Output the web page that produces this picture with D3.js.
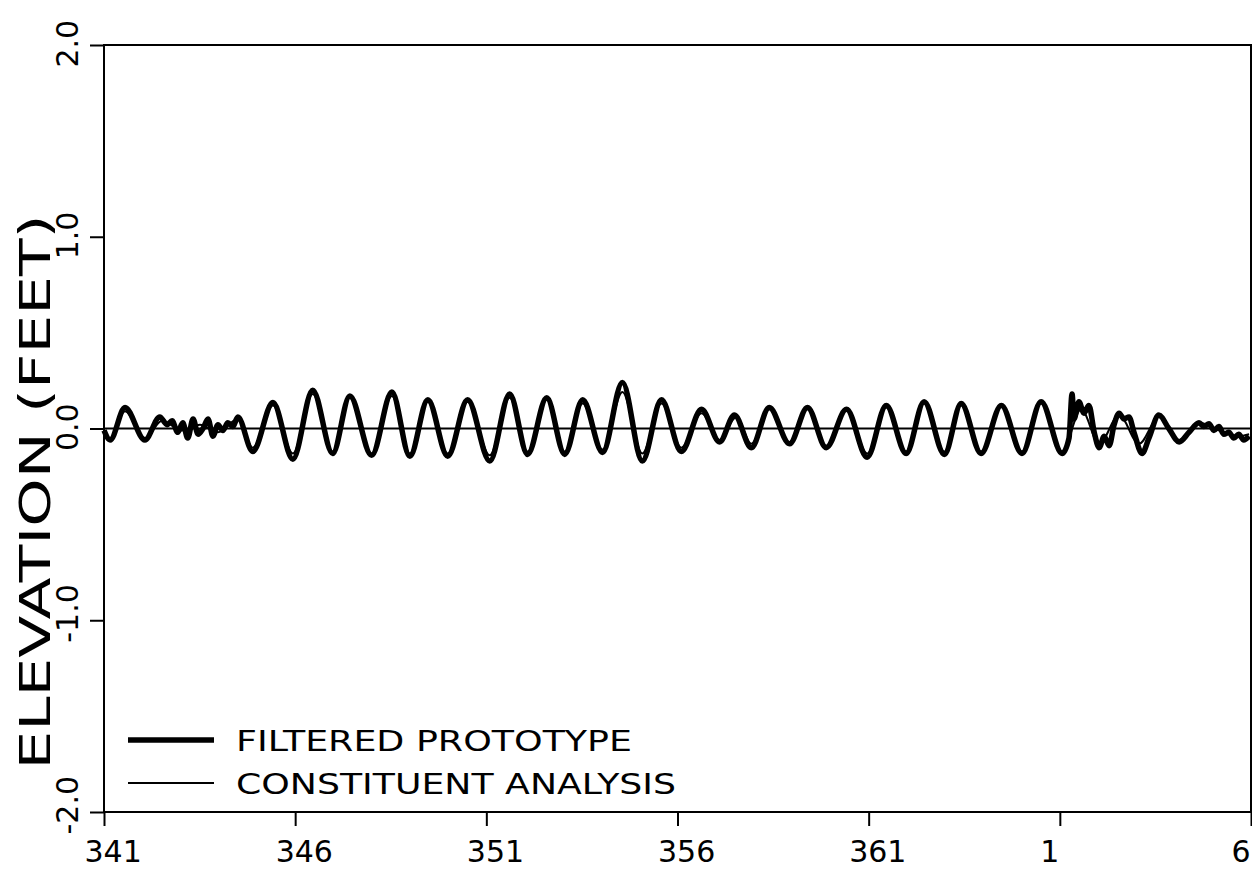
<!DOCTYPE html>
<html>
<head>
<meta charset="utf-8">
<script src="https://cdn.jsdelivr.net/npm/d3@7/dist/d3.min.js"></script>
<style>
  html, body { margin: 0; padding: 0; background: #fff; }
  svg { display: block; }
  text { font-family: "DejaVu Sans", sans-serif; fill: #000; }
</style>
</head>
<body>
<svg id="chart" width="1252" height="869"></svg>
<script>
// ---- data (days elapsed since start of day 341; elevation in feet) ----
const tickDays = [0, 5, 10, 15, 20, 25, 30];
const tickLabels = ["341", "346", "351", "356", "361", "1", "6"];
const yTicks = [-2, -1, 0, 1, 2];
const yTickLabels = ["-2.0", "-1.0", "0.0", "1.0", "2.0"];

const protoDays = [0, 0.16, 0.55, 1.07, 1.46, 1.65, 1.78, 1.93, 2.06, 2.19, 2.33, 2.46, 2.59, 2.72, 2.85, 2.98, 3.11, 3.24, 3.37, 3.50,
  3.89, 4.42, 4.94, 5.46, 5.98, 6.43, 7.00, 7.53, 8.00, 8.47, 8.99, 9.51, 10.09, 10.61, 11.08, 11.58, 12.05, 12.52, 13.04, 13.56,
  14.08, 14.58, 15.10, 15.63, 16.10, 16.49, 16.93, 17.40, 17.93, 18.40, 18.89, 19.42, 19.96, 20.46, 20.98, 21.45, 21.98, 22.42,
  22.94, 23.47, 24.01, 24.51, 25.06, 25.24, 25.32, 25.37, 25.50, 25.63, 25.76, 25.90, 26.03, 26.16, 26.29, 26.42, 26.55, 26.68,
  26.81, 26.94, 27.15, 27.33, 27.59, 27.85, 28.12, 28.38, 28.64, 28.77, 28.90, 29.03, 29.16, 29.29, 29.42, 29.55, 29.68, 29.81, 29.95];
const protoVals = [-0.01, -0.06, 0.11, -0.06, 0.06, 0.02, 0.04, -0.02, 0.03, -0.05, 0.05, -0.03, 0.0, 0.05, -0.04, 0.02, -0.01, 0.03, 0.01, 0.06,
  -0.12, 0.135, -0.16, 0.20, -0.13, 0.17, -0.14, 0.19, -0.145, 0.15, -0.145, 0.15, -0.17, 0.18, -0.135, 0.16, -0.135, 0.15, -0.125, 0.24,
  -0.17, 0.15, -0.12, 0.10, -0.07, 0.07, -0.10, 0.11, -0.08, 0.11, -0.10, 0.10, -0.15, 0.12, -0.13, 0.14, -0.135, 0.13,
  -0.13, 0.12, -0.13, 0.14, -0.13, -0.05, 0.18, 0.05, 0.14, 0.08, 0.12, -0.02, -0.10, -0.04, -0.09, 0.02, 0.08, 0.05,
  0.06, -0.02, -0.13, -0.05, 0.07, 0.0, -0.07, -0.02, 0.03, 0.01, 0.025, -0.01, 0.01, -0.03, -0.02, -0.05, -0.03, -0.06, -0.04];

const constDays = [0, 0.16, 0.55, 1.07, 1.52, 2.04, 2.51, 2.98, 3.50, 3.89, 4.42, 4.94, 5.46, 5.98, 6.43, 7.00, 7.53, 8.00, 8.47, 8.99,
  9.51, 10.09, 10.61, 11.08, 11.58, 12.05, 12.52, 13.04, 13.56, 14.08, 14.58, 15.10, 15.63, 16.10, 16.54, 16.93, 17.40, 17.93,
  18.40, 18.89, 19.42, 19.96, 20.46, 20.98, 21.45, 21.98, 22.42, 22.94, 23.47, 24.01, 24.51, 25.06, 25.56, 26.03, 26.55, 27.07,
  27.59, 28.12, 28.64, 29.16, 29.68, 29.95];
const constVals = [-0.02, -0.05, 0.09, -0.05, 0.04, -0.01, 0.02, -0.02, 0.05, -0.10, 0.12, -0.13, 0.18, -0.12, 0.16, -0.13, 0.17, -0.13, 0.14, -0.13,
  0.14, -0.14, 0.16, -0.12, 0.15, -0.12, 0.13, -0.11, 0.19, -0.13, 0.13, -0.10, 0.08, -0.06, 0.06, -0.08, 0.10, -0.07,
  0.10, -0.09, 0.10, -0.13, 0.11, -0.12, 0.13, -0.12, 0.12, -0.12, 0.12, -0.12, 0.13, -0.12, 0.10, -0.08, 0.07, -0.08,
  0.06, -0.06, 0.03, -0.01, -0.04, -0.03];

const legendNames = ["FILTERED PROTOTYPE", "CONSTITUENT ANALYSIS"];
const yTitle = "ELEVATION (FEET)";

// ---- drawing ----
const svg = d3.select("#chart");
const x = d3.scaleLinear().domain([0, 30]).range([104, 1251]);
const y = d3.scaleLinear().domain([-2, 2]).range([812, 45]);

// frame
svg.append("rect")
  .attr("x", x(0)).attr("y", y(2))
  .attr("width", x(30) - x(0)).attr("height", y(-2) - y(2))
  .attr("fill", "none").attr("stroke", "#000").attr("stroke-width", 2);

// x axis
const xAxis = svg.append("g")
  .attr("transform", `translate(0,${y(-2)})`)
  .call(d3.axisBottom(x).tickValues(tickDays).tickSize(14).tickSizeOuter(0)
    .tickFormat((d, i) => tickLabels[i]));
xAxis.select(".domain").remove();
xAxis.selectAll(".tick line").attr("stroke", "#000").attr("stroke-width", 2);
xAxis.selectAll(".tick text")
  .attr("text-anchor", "start")
  .attr("x", -20).attr("y", 50).attr("dy", 0)
  .style("font-size", "30px");

// y axis
const yAxis = svg.append("g")
  .attr("transform", `translate(${x(0)},0)`)
  .call(d3.axisLeft(y).tickValues(yTicks).tickSize(14).tickSizeOuter(0)
    .tickFormat((d, i) => yTickLabels[i]));
yAxis.select(".domain").remove();
yAxis.selectAll(".tick line").attr("stroke", "#000").attr("stroke-width", 2);
yAxis.selectAll(".tick text")
  .attr("text-anchor", "start")
  .attr("x", null).attr("dy", null)
  .attr("transform", "translate(-26,22) rotate(-90)")
  .style("font-size", "30px");

// zero line
svg.append("line")
  .attr("x1", x(0)).attr("x2", x(30))
  .attr("y1", y(0)).attr("y2", y(0))
  .attr("stroke", "#000").attr("stroke-width", 2);

// series
const protoData = protoDays.map((d, i) => [d, protoVals[i]]);
const constData = constDays.map((d, i) => [d, constVals[i]]);
const line = d3.line().x(d => x(d[0])).y(d => y(d[1])).curve(d3.curveMonotoneX);

svg.append("path").datum(constData)
  .attr("d", line).attr("fill", "none").attr("stroke", "#000").attr("stroke-width", 2);
svg.append("path").datum(protoData)
  .attr("d", line).attr("fill", "none").attr("stroke", "#000")
  .attr("stroke-width", 5.5).attr("stroke-linejoin", "round");

// y title
svg.append("text")
  .attr("transform", `translate(50,492) rotate(-90)`)
  .attr("text-anchor", "middle")
  .attr("textLength", 555).attr("lengthAdjust", "spacingAndGlyphs")
  .style("font-size", "42px")
  .text(yTitle);

// legend
const legend = svg.append("g");
const legendY = [740, 783];
const legendW = [5.5, 2];
const legendLen = [396, 440];
legendNames.forEach((name, i) => {
  legend.append("line")
    .attr("x1", 128).attr("x2", 214)
    .attr("y1", legendY[i]).attr("y2", legendY[i])
    .attr("stroke", "#000").attr("stroke-width", legendW[i]);
  legend.append("text")
    .attr("x", 236).attr("y", legendY[i] + 11)
    .attr("textLength", legendLen[i]).attr("lengthAdjust", "spacingAndGlyphs")
    .style("font-size", "28px")
    .text(name);
});
</script>
</body>
</html>
